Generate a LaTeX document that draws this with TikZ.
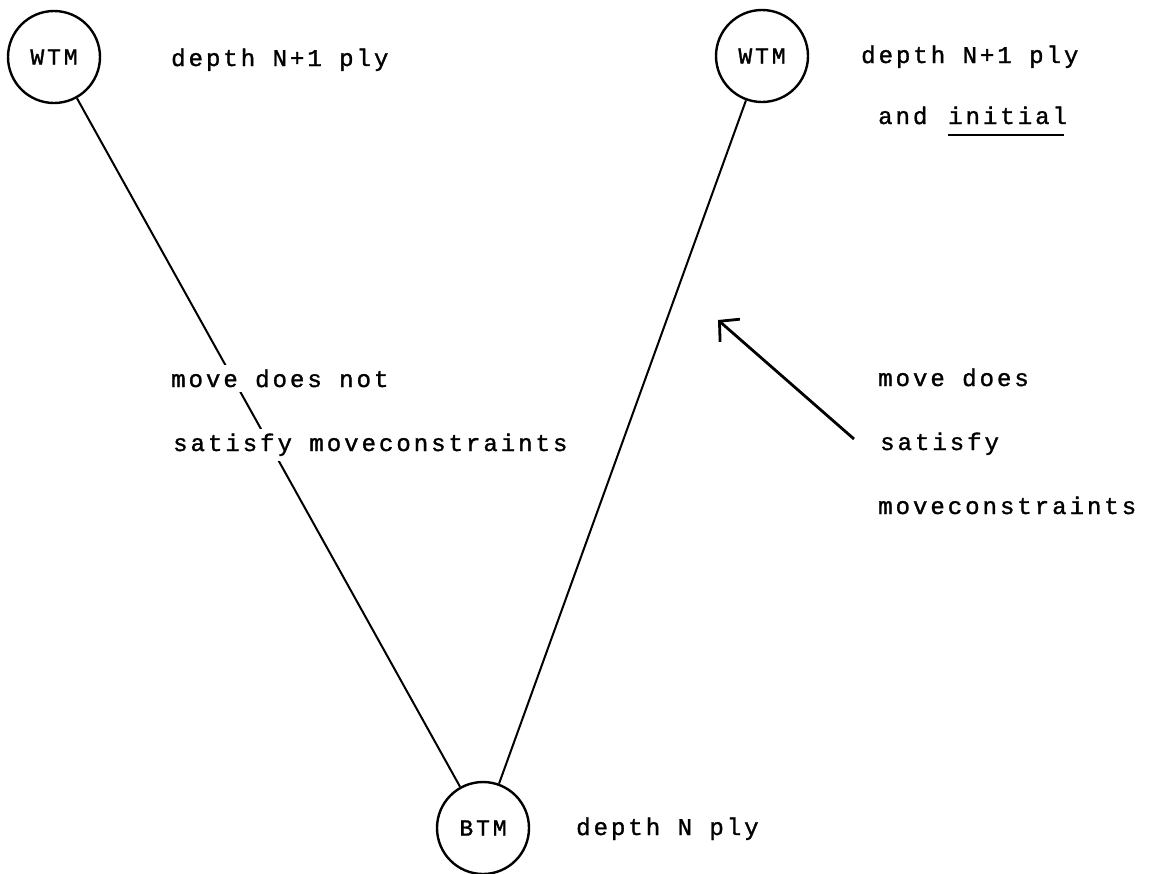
\documentclass[tikz,border=0pt]{standalone}
\usepackage{fontspec}
\setmonofont{Liberation Mono}
\newfontfamily\tw[LetterSpace=12.5,FakeBold=1.3]{Liberation Mono}
\usetikzlibrary{arrows.meta}
\begin{document}
\begin{tikzpicture}[x=1pt,y=-1pt,
  state/.style={draw, circle, line width=2.4pt, minimum size=92pt, inner sep=0pt, font=\tw\fontsize{23}{27}\selectfont},
  lbl/.style={anchor=base west, inner sep=0pt, font=\tw\fontsize{24}{28}\selectfont},
  gap/.style={lbl, fill=white, inner ysep=5pt},
  edge/.style={line width=2pt},
  pointer/.style={line width=2.8pt, -{Straight Barb[length=14pt,width=30pt]}},
]
\useasboundingbox (0,0) rectangle (1155,873);
\node[state] (w1) at (54,57) {WTM};
\node[state] (w2) at (762,56) {WTM};
\node[state] (b) at (483,828) {BTM};
\draw[edge] (w1) -- (b);
\draw[edge] (w2) -- (b);

\node[lbl] (d1) at (171,66) {depth N+1 ply};
\node[lbl] (d2) at (861,63) {depth N+1 ply};
\node[lbl] (and) at (878,124) {and};
\node[lbl] (init) at (948,124) {initial};
\draw[line width=2.2pt] ([yshift=-11pt]init.base west) -- ([yshift=-11pt,xshift=-3pt]init.base east);
\node[lbl] (dn) at (576,835) {depth N ply};

\node[gap] (m1) at (171,387) {move does not};
\node[gap] (m2) at (173,451) {satisfy moveconstraints};

\node[lbl] (r1) at (878,386) {move does};
\node[lbl] (r2) at (880,450) {satisfy};
\node[lbl] (r3) at (878,514) {moveconstraints};

\coordinate (tail) at (854,439);
\coordinate (tip) at (718,320);
\draw[pointer] (tail) -- (tip);
\end{tikzpicture}
\end{document}
